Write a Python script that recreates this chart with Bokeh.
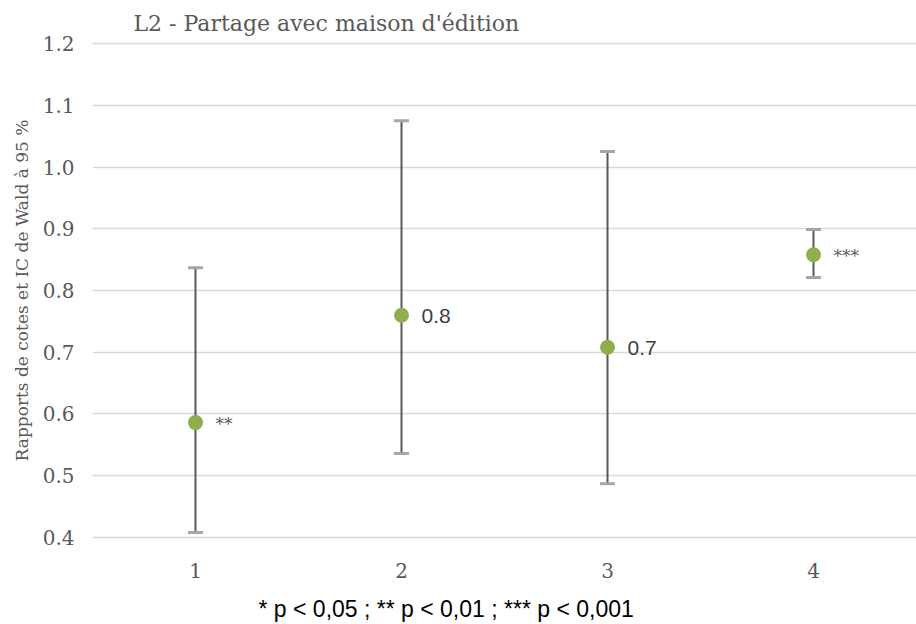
from bokeh.plotting import figure
from bokeh.models import ColumnDataSource, Range1d, FixedTicker, NumeralTickFormatter, Title
from bokeh.embed import file_html
from bokeh.resources import INLINE

# Data
groups = [1, 2, 3, 4]
odds_ratio = [0.586, 0.760, 0.708, 0.858]
ci_lower = [0.408, 0.536, 0.487, 0.821]
ci_upper = [0.837, 1.075, 1.025, 0.899]
point_labels = ["**", "0.8", "0.7", "***"]
y_ticks = [0.4, 0.5, 0.6, 0.7, 0.8, 0.9, 1.0, 1.1, 1.2]
title_text = "L2 - Partage avec maison d'édition"
y_label = "Rapports de cotes et IC de Wald à 95 %"
footnote = "* p < 0,05 ; ** p < 0,01 ; *** p < 0,001"

serif = "DejaVu Serif"
sans = "Liberation Sans"

is_star = [lab.startswith("*") for lab in point_labels]
src = ColumnDataSource(dict(
    x=groups, y=odds_ratio, lo=ci_lower, hi=ci_upper, lab=point_labels,
    font=[serif if s else sans for s in is_star],
    fsize=["17px" if s else "21px" for s in is_star],
    fcolor=["#595959" if s else "#404040" for s in is_star],
))

p = figure(width=916, height=624, output_backend="svg", toolbar_location=None,
           x_range=Range1d(0.5, 4.5), y_range=Range1d(0.395, 1.205),
           min_border_left=92, min_border_right=0, min_border_top=40, min_border_bottom=84)
p.outline_line_color = None
p.background_fill_color = "white"
p.border_fill_color = "white"

t = Title(text=title_text, align="left", offset=41, text_font=serif,
          text_font_size="22px", text_font_style="normal", text_color="#595959", standoff=10)
p.add_layout(t, "above")

foot = Title(text=footnote, align="left", offset=166, text_font=sans,
             text_font_size="23px", text_font_style="normal", text_color="#000000", standoff=6)
p.add_layout(foot, "below")

# grid
p.xgrid.grid_line_color = None
p.ygrid.ticker = FixedTicker(ticks=y_ticks)
p.ygrid.grid_line_color = "#d9d9d9"
p.ygrid.grid_line_width = 1.5

# axes
for ax in (p.xaxis[0], p.yaxis[0]):
    ax.axis_line_color = None
    ax.major_tick_line_color = None
    ax.minor_tick_line_color = None
    ax.major_label_text_font = serif
    ax.major_label_text_color = "#595959"
    ax.major_label_text_font_size = "20px"
p.xaxis.ticker = FixedTicker(ticks=groups)
p.xaxis.major_label_standoff = 16
p.xaxis.axis_label = " "
p.xaxis.axis_label_text_font_size = "7px"
p.xaxis.axis_label_standoff = 0
p.yaxis.ticker = FixedTicker(ticks=y_ticks)
p.yaxis.formatter = NumeralTickFormatter(format="0.0")
p.yaxis.major_label_standoff = 12
p.yaxis.axis_label = y_label
p.yaxis.axis_label_text_font = serif
p.yaxis.axis_label_text_font_style = "normal"
p.yaxis.axis_label_text_font_size = "17px"
p.yaxis.axis_label_text_color = "#595959"
p.yaxis.axis_label_standoff = 8

# error bars
p.segment(x0="x", y0="lo", x1="x", y1="hi", source=src, line_color="#595959", line_width=2)
p.rect(x="x", y="hi", width=15, height=3, width_units="screen", height_units="screen",
       source=src, fill_color="#a6a6a6", line_color=None)
p.rect(x="x", y="lo", width=15, height=3, width_units="screen", height_units="screen",
       source=src, fill_color="#a6a6a6", line_color=None)

# points
p.scatter(x="x", y="y", source=src, size=15, fill_color="#8db04a", line_color=None)

# labels
p.text(x="x", y="y", text="lab", source=src, x_offset=20, y_offset=1,
       text_font="font", text_font_size="fsize", text_color="fcolor",
       text_baseline="middle", text_align="left")

open("out.html", "w").write(file_html(p, INLINE))
